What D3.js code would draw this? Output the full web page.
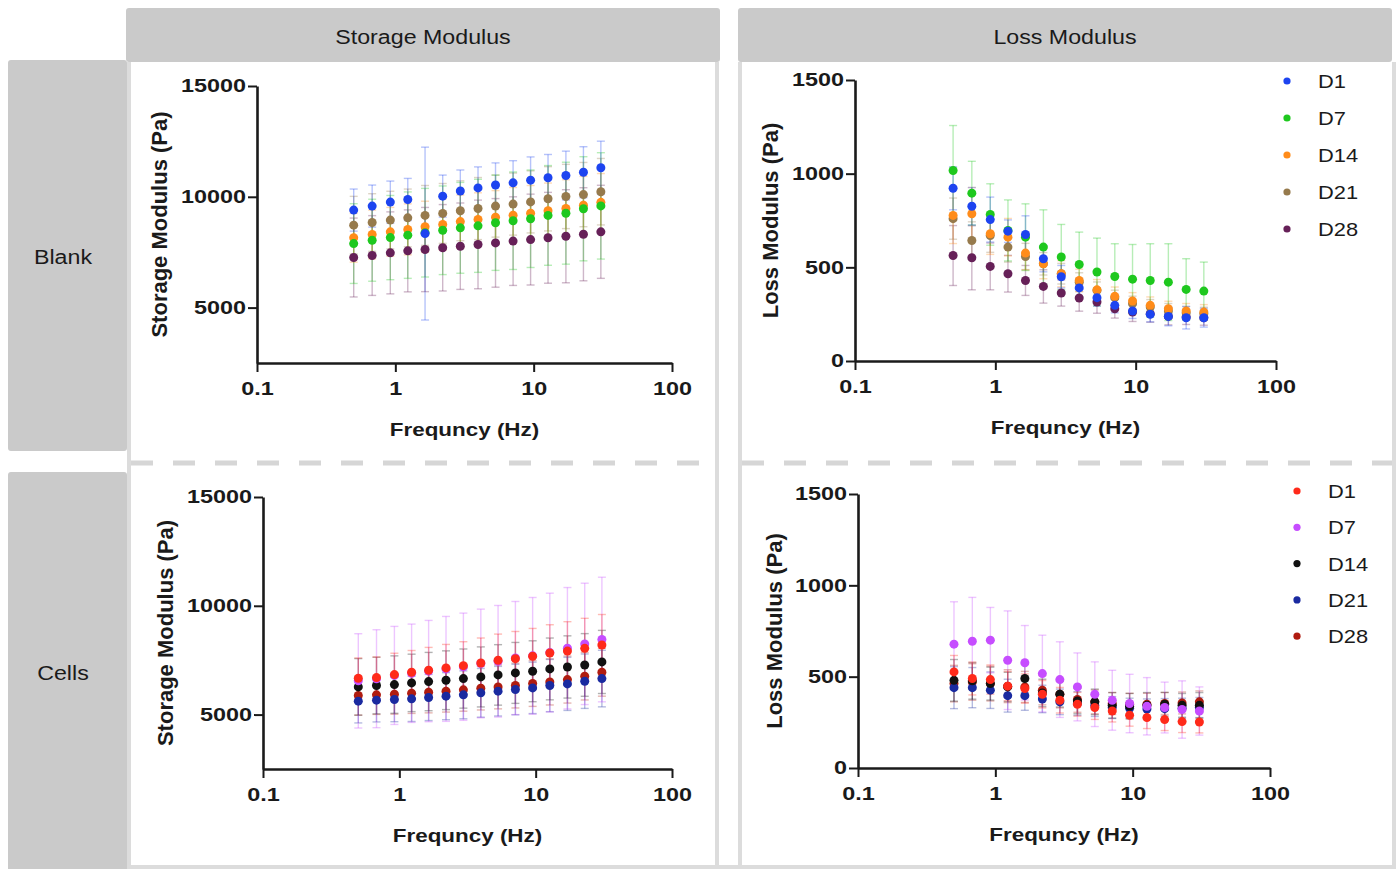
<!DOCTYPE html>
<html>
<head>
<meta charset="utf-8">
<script src="https://cdn.jsdelivr.net/npm/d3@7/dist/d3.min.js"></script>
<style>
  body { margin: 0; background: #fff; }
  text { font-family: "Liberation Sans", Arial, sans-serif; fill: #1a1a1a; }
</style>
</head>
<body>
<svg id="chart"></svg>
<script>
// ---- data ----
var days = ["D1", "D7", "D14", "D21", "D28"];
var freq = [0.5, 0.68, 0.92, 1.23, 1.64, 2.2, 2.95, 3.96, 5.3, 7.1, 9.5, 12.7, 17.1, 22.9, 30.6];
var xMajor = [0.1, 1, 10, 100];
var storageTicks = [5000, 10000, 15000];
var lossTicks = [0, 500, 1000, 1500];
var colNames = ["Storage Modulus", "Loss Modulus"];
var rowNames = ["Blank", "Cells"];

var blankColors = ["#1d44f0", "#1ec81e", "#ff8c1a", "#967a4c", "#662058"];
var cellColors = ["#ff2a1a", "#c64dff", "#111111", "#1a2aa0", "#b01c10"];

// Blank, storage modulus (rows follow days)
var blankStorage = [
  [9400, 9580, 9760, 9880, 8340, 10030, 10260, 10400, 10530, 10630, 10750, 10860, 10960, 11110, 11310],
  [7890, 8040, 8160, 8270, 8380, 8490, 8600, 8690, 8830, 8920, 9010, 9160, 9260, 9460, 9590],
  [8150, 8300, 8420, 8530, 8650, 8750, 8880, 8980, 9080, 9170, 9260, 9370, 9470, 9620, 9750],
  [8720, 8840, 8950, 9050, 9160, 9250, 9370, 9470, 9580, 9670, 9770, 9910, 10015, 10100, 10230],
  [7260, 7350, 7470, 7560, 7620, 7700, 7770, 7850, 7920, 8000, 8070, 8150, 8220, 8310, 8420]
];
var blankStorageSd = [
  [950, 950, 950, 950, 3900, 950, 950, 950, 1000, 1000, 1050, 1050, 1100, 1150, 1200],
  [1800, 1850, 1900, 1950, 2000, 2000, 2050, 2100, 2150, 2200, 2200, 2250, 2300, 2350, 2400],
  [1100, 1100, 1100, 1150, 1150, 1150, 1200, 1200, 1200, 1250, 1250, 1250, 1300, 1300, 1300],
  [1300, 1300, 1300, 1300, 1350, 1350, 1350, 1400, 1400, 1400, 1400, 1450, 1450, 1450, 1500],
  [1780, 1800, 1850, 1850, 1900, 1950, 1950, 2000, 2000, 2000, 2050, 2050, 2100, 2100, 2100]
];
// Blank, loss modulus
var blankLoss = [
  [922, 826, 755, 693, 675, 546, 450, 390, 338, 297, 267, 249, 238, 231, 231],
  [1017, 896, 782, 697, 661, 608, 555, 515, 475, 451, 437, 430, 421, 382, 373],
  [777, 786, 679, 661, 576, 519, 466, 430, 380, 345, 320, 297, 279, 267, 261],
  [760, 643, 670, 608, 558, 519, 466, 421, 377, 338, 306, 288, 267, 256, 252],
  [563, 551, 505, 466, 430, 398, 363, 336, 315, 279, 261, 252, 238, 235, 231]
];
var blankLossSd = [
  [115, 100, 120, 60, 100, 70, 60, 50, 45, 40, 40, 40, 50, 60, 50],
  [240, 170, 164, 163, 178, 199, 174, 173, 181, 175, 185, 196, 205, 164, 155],
  [150, 140, 110, 100, 90, 80, 70, 60, 55, 50, 45, 45, 40, 40, 40],
  [110, 100, 90, 80, 70, 60, 55, 50, 45, 40, 40, 40, 40, 35, 35],
  [160, 171, 125, 98, 80, 89, 70, 70, 60, 50, 50, 45, 45, 40, 40]
];
// Cells, storage modulus
var cellStorage = [
  [6671, 6700, 6840, 6946, 7038, 7145, 7250, 7370, 7500, 7570, 7680, 7830, 7920, 8045, 8200],
  [6550, 6650, 6800, 6900, 7000, 7100, 7200, 7350, 7450, 7600, 7700, 7850, 8050, 8250, 8450],
  [6274, 6335, 6380, 6457, 6518, 6580, 6656, 6732, 6824, 6916, 6992, 7099, 7190, 7282, 7420],
  [5617, 5663, 5694, 5724, 5786, 5847, 5908, 6000, 6076, 6152, 6228, 6335, 6411, 6534, 6656],
  [5877, 5908, 5938, 5984, 6030, 6076, 6137, 6213, 6274, 6335, 6427, 6503, 6610, 6763, 6946]
];
var cellStorageSd = [
  [930, 950, 980, 1000, 1050, 1080, 1100, 1150, 1200, 1250, 1280, 1300, 1350, 1380, 1400],
  [2167, 2250, 2253, 2260, 2328, 2411, 2464, 2497, 2565, 2599, 2682, 2730, 2790, 2788, 2863],
  [1300, 1300, 1320, 1320, 1340, 1350, 1360, 1380, 1390, 1400, 1400, 1420, 1430, 1440, 1450],
  [1000, 1000, 1020, 1040, 1060, 1080, 1100, 1120, 1140, 1160, 1180, 1200, 1220, 1250, 1300],
  [900, 900, 920, 930, 950, 960, 980, 1000, 1010, 1030, 1050, 1060, 1080, 1090, 1100]
];
// Cells, loss modulus
var cellLoss = [
  [526, 490, 484, 448, 435, 404, 371, 349, 331, 312, 289, 276, 265, 254, 252],
  [678, 694, 700, 590, 576, 517, 484, 444, 404, 371, 353, 338, 331, 320, 312],
  [480, 477, 462, 444, 490, 411, 404, 367, 362, 343, 338, 343, 349, 343, 343],
  [440, 440, 426, 396, 396, 378, 362, 353, 342, 331, 327, 323, 325, 327, 331],
  [462, 471, 462, 448, 444, 426, 404, 375, 362, 353, 349, 349, 353, 356, 362]
];
var cellLossSd = [
  [90, 90, 80, 80, 80, 75, 70, 65, 65, 60, 60, 60, 60, 60, 60],
  [232, 240, 179, 270, 204, 210, 207, 186, 177, 164, 160, 157, 139, 157, 132],
  [114, 100, 90, 80, 80, 75, 70, 70, 70, 70, 70, 70, 65, 65, 70],
  [115, 110, 100, 90, 80, 75, 70, 65, 60, 60, 55, 55, 55, 55, 55],
  [100, 100, 95, 90, 85, 80, 75, 70, 65, 60, 60, 60, 60, 60, 60]
];

// ---- page ----
var svg = d3.select("#chart").attr("width", 1396).attr("height", 869);
var grey = "#cacaca", line = "#dcdcdc";

// stretch text horizontally (reference image is wide)
function stretch(sel, k) {
  sel.each(function () {
    var w = this.getComputedTextLength();
    d3.select(this).attr("textLength", w * k).attr("lengthAdjust", "spacingAndGlyphs");
  });
}

// strips
var colStrips = [{x: 126, w: 594}, {x: 738, w: 654}];
colStrips.forEach(function (s, i) {
  svg.append("rect").attr("x", s.x).attr("y", 8).attr("width", s.w).attr("height", 54)
    .attr("rx", 3).attr("fill", grey);
  svg.append("text").attr("x", s.x + s.w / 2).attr("y", 44).attr("text-anchor", "middle")
    .style("font-size", "20px").text(colNames[i]).call(stretch, 1.16);
});
var rowStrips = [{y: 60, h: 391}, {y: 472, h: 400}];
rowStrips.forEach(function (s, i) {
  svg.append("rect").attr("x", 8).attr("y", s.y).attr("width", 119).attr("height", s.h)
    .attr("rx", 3).attr("fill", grey);
  svg.append("text").attr("x", 63).attr("y", i == 0 ? 264 : 680).attr("text-anchor", "middle")
    .style("font-size", "20px").text(rowNames[i]).call(stretch, 1.16);
});

// panel borders
[129, 717, 740, 1394].forEach(function (x) {
  svg.append("line").attr("x1", x).attr("x2", x).attr("y1", 62).attr("y2", 869)
    .attr("stroke", line).attr("stroke-width", 4);
});
svg.append("line").attr("x1", 129).attr("x2", 1396).attr("y1", 867).attr("y2", 867)
  .attr("stroke", line).attr("stroke-width", 4);
[[131, 715], [742, 1392]].forEach(function (r) {
  svg.append("line").attr("x1", r[0]).attr("x2", r[1]).attr("y1", 463).attr("y2", 463)
    .attr("stroke", "#d6d6d6").attr("stroke-width", 5).attr("stroke-dasharray", "22,20");
});

// ---- panels ----
var panels = [
  {left: 257, right: 672, top: 86, bottom: 363, yDomain: [2500, 15000], yTicks: storageTicks,
   yTitle: "Storage Modulus (Pa)", titleX: 159, mean: blankStorage, sd: blankStorageSd, colors: blankColors},
  {left: 855, right: 1276, top: 80, bottom: 361, yDomain: [0, 1500], yTicks: lossTicks,
   yTitle: "Loss Modulus (Pa)", titleX: 770, mean: blankLoss, sd: blankLossSd, colors: blankColors,
   legend: {x: 1287, y: 81, step: 37}},
  {left: 263, right: 672, top: 497, bottom: 769, yDomain: [2500, 15000], yTicks: storageTicks,
   yTitle: "Storage Modulus (Pa)", titleX: 165, mean: cellStorage, sd: cellStorageSd, colors: cellColors},
  {left: 858, right: 1270, top: 494, bottom: 768, yDomain: [0, 1500], yTicks: lossTicks,
   yTitle: "Loss Modulus (Pa)", titleX: 774, mean: cellLoss, sd: cellLossSd, colors: cellColors,
   legend: {x: 1297, y: 491, step: 36.3}}
];

panels.forEach(function (p) {
  var x = d3.scaleLog().domain([0.1, 100]).range([p.left, p.right]);
  var y = d3.scaleLinear().domain(p.yDomain).range([p.bottom, p.top]);
  var g = svg.append("g");

  // flatten points, D28 drawn first so D1 ends on top
  var pts = [];
  for (var s = days.length - 1; s >= 0; s--) {
    p.mean[s].forEach(function (v, i) {
      pts.push({f: freq[i], v: v, sd: p.sd[s][i], color: p.colors[s]});
    });
  }

  var eb = g.append("g").selectAll("g").data(pts).enter().append("g")
    .attr("stroke", d => d.color).attr("stroke-opacity", 0.32).attr("stroke-width", 1.4);
  eb.append("line").attr("x1", d => x(d.f)).attr("x2", d => x(d.f))
    .attr("y1", d => y(d.v - d.sd)).attr("y2", d => y(d.v + d.sd));
  eb.append("line").attr("x1", d => x(d.f) - 4).attr("x2", d => x(d.f) + 4)
    .attr("y1", d => y(d.v + d.sd)).attr("y2", d => y(d.v + d.sd));
  eb.append("line").attr("x1", d => x(d.f) - 4).attr("x2", d => x(d.f) + 4)
    .attr("y1", d => y(d.v - d.sd)).attr("y2", d => y(d.v - d.sd));

  g.append("g").selectAll("circle").data(pts).enter().append("circle")
    .attr("cx", d => x(d.f)).attr("cy", d => y(d.v)).attr("r", 4.5)
    .attr("fill", d => d.color);

  // axes
  var minor = x.ticks().filter(t => Math.abs(Math.log10(t) - Math.round(Math.log10(t))) > 1e-6);
  var xg = g.append("g").attr("transform", "translate(0," + p.bottom + ")");
  xg.call(d3.axisBottom(x).tickValues(minor).tickFormat("").tickSize(6).tickSizeOuter(0));
  xg.call(d3.axisBottom(x).tickValues(xMajor).tickFormat(d3.format("~g"))
    .tickSize(9).tickSizeOuter(0).tickPadding(10));
  var yg = g.append("g").attr("transform", "translate(" + p.left + ",0)")
    .call(d3.axisLeft(y).tickValues(p.yTicks).tickFormat(d3.format("d"))
      .tickSize(9).tickSizeOuter(0).tickPadding(2));

  [xg, yg].forEach(function (a) {
    a.selectAll("path.domain").attr("stroke", "#1a1a1a").attr("stroke-width", 2.6);
    a.selectAll(".tick line").attr("stroke", "#1a1a1a").attr("stroke-width", 2);
    a.selectAll(".tick text").style("font-size", "18px").style("font-weight", "bold")
      .style("font-family", "'Liberation Sans', Arial, sans-serif").attr("fill", "#1a1a1a")
      .call(stretch, 1.3);
  });

  g.append("text").attr("x", (p.left + p.right) / 2).attr("y", p.bottom + 73)
    .attr("text-anchor", "middle").style("font-size", "19px").style("font-weight", "bold")
    .text("Frequncy (Hz)").call(stretch, 1.18);
  g.append("text").attr("transform", "translate(" + p.titleX + "," + (p.top + p.bottom) / 2 + ") rotate(-90)")
    .attr("text-anchor", "middle").attr("dy", "0.35em")
    .style("font-size", "22px").style("font-weight", "bold").text(p.yTitle);

  if (p.legend) {
    var lg = g.append("g").selectAll("g").data(days).enter().append("g")
      .attr("transform", (d, i) => "translate(" + p.legend.x + "," + (p.legend.y + i * p.legend.step) + ")");
    lg.append("circle").attr("r", 3.6).attr("fill", (d, i) => p.colors[i]);
    lg.append("text").attr("x", 31).attr("y", 7).style("font-size", "19px").text(d => d)
      .call(stretch, 1.15);
  }
});
</script>
</body>
</html>
